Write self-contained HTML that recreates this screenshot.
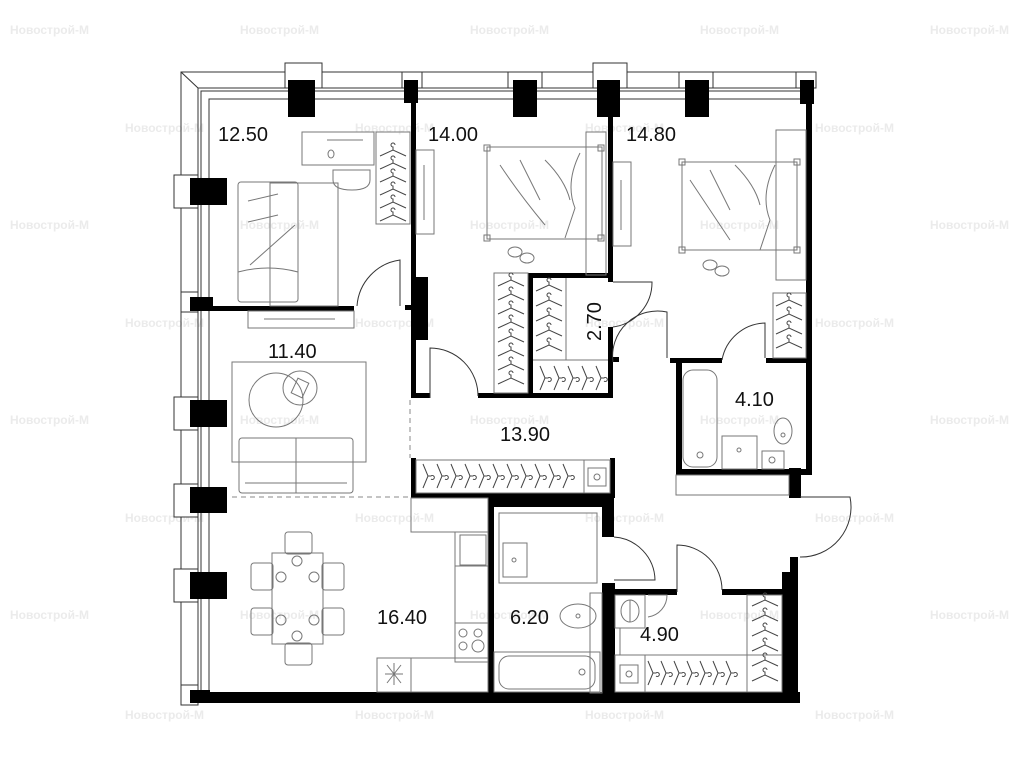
<!DOCTYPE html>
<html><head><meta charset="utf-8"><style>
html,body{margin:0;padding:0;background:#fff;}
svg{display:block;}
.wm{font-family:"Liberation Sans",sans-serif;font-size:12px;fill:#ebebeb;font-weight:bold;}
.lb{font-family:"Liberation Sans",sans-serif;font-size:20px;fill:#111;}
.t{fill:none;stroke:#333;stroke-width:1;}
.g{fill:none;stroke:#777;stroke-width:1;}
</style></head><body>
<svg width="1024" height="768" viewBox="0 0 1024 768" xmlns="http://www.w3.org/2000/svg">
<defs>
<g id="hg"><path d="M-13,6 L0,0 L13,6 M0,0 v-3 a2,2 0 1 1 2,-2" fill="none" stroke="#444" stroke-width="1"/></g>
<g id="hv"><path d="M-5,-12 L0,0 L-5,12 M0,0 h3 a2,2 0 1 1 0,3" fill="none" stroke="#444" stroke-width="1"/></g>
</defs>
<g class="wm">
<text x="10" y="34">Новострой-М</text><text x="240" y="34">Новострой-М</text><text x="470" y="34">Новострой-М</text><text x="700" y="34">Новострой-М</text><text x="930" y="34">Новострой-М</text>
<text x="125" y="132">Новострой-М</text><text x="355" y="132">Новострой-М</text><text x="585" y="132">Новострой-М</text><text x="815" y="132">Новострой-М</text>
<text x="10" y="229">Новострой-М</text><text x="240" y="229">Новострой-М</text><text x="470" y="229">Новострой-М</text><text x="700" y="229">Новострой-М</text><text x="930" y="229">Новострой-М</text>
<text x="125" y="327">Новострой-М</text><text x="355" y="327">Новострой-М</text><text x="585" y="327">Новострой-М</text><text x="815" y="327">Новострой-М</text>
<text x="10" y="424">Новострой-М</text><text x="240" y="424">Новострой-М</text><text x="470" y="424">Новострой-М</text><text x="700" y="424">Новострой-М</text><text x="930" y="424">Новострой-М</text>
<text x="125" y="522">Новострой-М</text><text x="355" y="522">Новострой-М</text><text x="585" y="522">Новострой-М</text><text x="815" y="522">Новострой-М</text>
<text x="10" y="619">Новострой-М</text><text x="240" y="619">Новострой-М</text><text x="470" y="619">Новострой-М</text><text x="700" y="619">Новострой-М</text><text x="930" y="619">Новострой-М</text>
<text x="125" y="719">Новострой-М</text><text x="355" y="719">Новострой-М</text><text x="585" y="719">Новострой-М</text><text x="815" y="719">Новострой-М</text>
</g>
<g class="t">
<path d="M181,697 V72 H815"/>
<path d="M181,72 L198,88"/>
<path d="M198,697 V88 H806"/><path d="M201,697 V91 H806"/>
<path d="M209,692 V99 H806"/>
<rect x="285" y="63" width="37" height="25" fill="#fff"/>
<rect x="402" y="72" width="20" height="16" fill="#fff"/>
<rect x="508" y="72" width="34" height="16" fill="#fff"/>
<rect x="593" y="63" width="34" height="25" fill="#fff"/>
<rect x="679" y="72" width="34" height="16" fill="#fff"/>
<rect x="796" y="72" width="20" height="16" fill="#fff"/>
<rect x="174" y="175" width="24" height="33" fill="#fff"/>
<rect x="181" y="292" width="17" height="20" fill="#fff"/>
<rect x="174" y="397" width="24" height="33" fill="#fff"/>
<rect x="174" y="484" width="24" height="33" fill="#fff"/>
<rect x="174" y="569" width="24" height="33" fill="#fff"/>
<rect x="181" y="685" width="17" height="20" fill="#fff"/>
</g>
<g fill="#000">
<rect x="288" y="80" width="27" height="37"/>
<rect x="404" y="80" width="14" height="23"/>
<rect x="513" y="80" width="24" height="37"/>
<rect x="597" y="80" width="23" height="37"/>
<rect x="685" y="80" width="24" height="37"/>
<rect x="800" y="80" width="14" height="24"/>
<rect x="806" y="100" width="6" height="375"/>
<rect x="789" y="468" width="12" height="30"/>
<rect x="190" y="178" width="37" height="27"/>
<rect x="190" y="297" width="23" height="14"/>
<rect x="190" y="400" width="37" height="27"/>
<rect x="190" y="487" width="37" height="26"/>
<rect x="190" y="572" width="37" height="27"/>
<rect x="190" y="690" width="20" height="13"/>
<rect x="190" y="692" width="610" height="11"/>
<rect x="190" y="306" width="164" height="5"/>
<rect x="411" y="80" width="5" height="318"/>
<rect x="411" y="277" width="17" height="63"/>
<rect x="405" y="305" width="8" height="5"/>
<rect x="411" y="393" width="19" height="5"/>
<rect x="478" y="393" width="135" height="5"/>
<rect x="608" y="80" width="5" height="202"/>
<rect x="528" y="273" width="85" height="5"/>
<rect x="528" y="273" width="5" height="125"/>
<rect x="608" y="327" width="5" height="71"/>
<rect x="608" y="357" width="11" height="5"/>
<rect x="670" y="358" width="52" height="5"/>
<rect x="766" y="358" width="46" height="5"/>
<rect x="676" y="358" width="6" height="117"/>
<rect x="676" y="469" width="130" height="6"/>
<rect x="411" y="458" width="5" height="40"/>
<rect x="610" y="458" width="5" height="40"/>
<rect x="411" y="493" width="204" height="5"/>
<rect x="488" y="498" width="6" height="205"/>
<rect x="488" y="498" width="126" height="9"/>
<rect x="602" y="498" width="12" height="39"/>
<rect x="602" y="583" width="13" height="120"/>
<rect x="602" y="589" width="75" height="6"/>
<rect x="722" y="589" width="64" height="6"/>
<rect x="790" y="557" width="8" height="146"/>
<rect x="782" y="572" width="16" height="131"/>
</g>
<path d="M410,400 V458" stroke="#888" stroke-dasharray="5,4" fill="none"/>
<path d="M232,497 H410" stroke="#888" stroke-dasharray="5,4" fill="none"/>
<g class="t">
<path d="M357,306 A50,50 0 0 1 400,260 V306"/>
<path d="M430,398 V348 A48,48 0 0 1 478,396"/>
<path d="M613,282 H652 A45,45 0 0 1 613,327"/>
<path d="M613,362 A45,45 0 0 1 667,312 V358"/>
<path d="M722,360 A45,45 0 0 1 765,323 V358"/>
<path d="M800,497 H850 A50,50 0 0 1 800,557"/>
<path d="M614,537 A44,44 0 0 1 655,580 H614"/>
<path d="M677,592 V545 A45,45 0 0 1 722,590"/>
</g>
<g class="g">
<rect x="302" y="132" width="72" height="33"/><line x1="327" y1="140" x2="363" y2="140"/><ellipse cx="331" cy="154" rx="3" ry="4"/>
<path d="M333,170 h37 v10 q0,10 -18,10 q-19,0 -19,-10 z"/>
<rect x="376" y="132" width="34" height="92"/>
<rect x="238" y="182" width="60" height="120" rx="3"/>
<path d="M248,201 l30,-7 M248,222 l30,-7 M250,265 l45,-40 M238,272 q30,-8 60,0"/>
<rect x="270" y="183" width="68" height="123"/>
<rect x="248" y="311" width="106" height="17"/><line x1="264" y1="319" x2="335" y2="319"/>
<g transform="translate(393,150)"><use href="#hg"/><use href="#hg" y="13"/><use href="#hg" y="26"/><use href="#hg" y="39"/><use href="#hg" y="52"/><use href="#hg" y="65"/></g>
<rect x="416" y="150" width="18" height="84"/><line x1="424" y1="165" x2="424" y2="220"/>
<rect x="487" y="147" width="115" height="92"/><rect x="484" y="145" width="6" height="6"/><rect x="598" y="145" width="6" height="6"/><rect x="484" y="235" width="6" height="6"/><rect x="598" y="235" width="6" height="6"/>
<path d="M500,165 q20,30 45,60 M520,160 q10,20 20,40 M545,160 q20,20 25,40 M580,153 q-15,30 -5,55 q-5,15 -10,30"/>
<rect x="586" y="132" width="20" height="143"/>
<ellipse cx="515" cy="252" rx="7" ry="5"/><ellipse cx="527" cy="258" rx="7" ry="5"/>
<rect x="494" y="273" width="34" height="120"/>
<g transform="translate(511,280)"><use href="#hg"/><use href="#hg" y="14"/><use href="#hg" y="28"/><use href="#hg" y="42"/><use href="#hg" y="56"/><use href="#hg" y="70"/><use href="#hg" y="84"/><use href="#hg" y="98"/></g>
<g transform="translate(549,285)"><use href="#hg"/><use href="#hg" y="15"/><use href="#hg" y="30"/><use href="#hg" y="45"/><use href="#hg" y="60"/></g>
<line x1="566" y1="278" x2="566" y2="360"/><line x1="533" y1="360" x2="608" y2="360"/>
<g transform="translate(545,378)"><use href="#hv"/><use href="#hv" x="14"/><use href="#hv" x="28"/><use href="#hv" x="42"/><use href="#hv" x="56"/></g>
<rect x="613" y="162" width="18" height="84"/><line x1="621" y1="180" x2="621" y2="230"/>
<rect x="682" y="162" width="115" height="88"/><rect x="679" y="159" width="6" height="6"/><rect x="794" y="159" width="6" height="6"/><rect x="679" y="247" width="6" height="6"/><rect x="794" y="247" width="6" height="6"/>
<path d="M690,180 q20,30 40,60 M710,170 q10,20 20,40 M735,165 q20,20 25,40 M775,165 q-15,30 -5,55 q-5,15 -10,30"/>
<rect x="776" y="130" width="30" height="150"/>
<ellipse cx="710" cy="265" rx="7" ry="5"/><ellipse cx="722" cy="271" rx="7" ry="5"/>
<rect x="773" y="293" width="33" height="65"/>
<g transform="translate(789,300)"><use href="#hg"/><use href="#hg" y="14"/><use href="#hg" y="28"/><use href="#hg" y="42"/></g>
<rect x="683" y="370" width="34" height="97" rx="10"/><circle cx="700" cy="455" r="3"/>
<rect x="722" y="436" width="35" height="33"/><circle cx="739" cy="450" r="2"/>
<ellipse cx="783" cy="431" rx="9" ry="13"/><circle cx="783" cy="435" r="2"/>
<rect x="762" y="451" width="22" height="18"/><circle cx="772" cy="460" r="3"/>
<rect x="676" y="475" width="113" height="20"/>
<rect x="232" y="362" width="134" height="100"/>
<circle cx="276" cy="400" r="27"/><circle cx="300" cy="388" r="17"/><rect x="294" y="380" width="12" height="16" transform="rotate(25 300 388)"/>
<rect x="239" y="438" width="114" height="55" rx="3"/><line x1="296" y1="438" x2="296" y2="493"/><line x1="245" y1="483" x2="347" y2="483"/>
<rect x="416" y="460" width="194" height="33"/><line x1="584" y1="460" x2="584" y2="493"/><rect x="588" y="468" width="18" height="18"/><circle cx="597" cy="477" r="3"/>
<g transform="translate(428,476)"><use href="#hv"/><use href="#hv" x="14"/><use href="#hv" x="28"/><use href="#hv" x="42"/><use href="#hv" x="56"/><use href="#hv" x="70"/><use href="#hv" x="84"/><use href="#hv" x="98"/><use href="#hv" x="112"/><use href="#hv" x="126"/><use href="#hv" x="140"/></g>
<rect x="411" y="498" width="77" height="34"/>
<rect x="455" y="532" width="33" height="130"/><rect x="460" y="535" width="26" height="30"/>
<line x1="455" y1="566" x2="488" y2="566"/><line x1="455" y1="623" x2="488" y2="623"/>
<circle cx="463" cy="633" r="4"/><circle cx="478" cy="633" r="4"/><circle cx="463" cy="646" r="4"/><circle cx="478" cy="646" r="6"/>
<rect x="377" y="658" width="111" height="34"/><line x1="411" y1="658" x2="411" y2="692"/>
<path d="M387,665 l14,18 M401,665 l-14,18 M394,663 v22 M385,674 h18"/>
<rect x="272" y="553" width="51" height="91"/>
<rect x="285" y="532" width="27" height="22" rx="3"/><rect x="285" y="643" width="27" height="22" rx="3"/>
<rect x="251" y="563" width="22" height="27" rx="3"/><rect x="251" y="608" width="22" height="27" rx="3"/>
<rect x="322" y="563" width="22" height="27" rx="3"/><rect x="322" y="608" width="22" height="27" rx="3"/>
<circle cx="297" cy="561" r="5"/><circle cx="297" cy="636" r="5"/><circle cx="281" cy="577" r="5"/><circle cx="314" cy="577" r="5"/><circle cx="281" cy="620" r="5"/><circle cx="314" cy="620" r="5"/>
<rect x="499" y="513" width="98" height="70"/><rect x="503" y="543" width="24" height="34"/><circle cx="514" cy="560" r="2"/>
<ellipse cx="578" cy="616" rx="18" ry="12"/><circle cx="578" cy="616" r="2"/>
<rect x="590" y="593" width="12" height="100"/>
<rect x="494" y="652" width="106" height="40"/><rect x="499" y="656" width="96" height="33" rx="10"/><circle cx="582" cy="672" r="3"/>
<rect x="615" y="595" width="30" height="33"/><ellipse cx="630" cy="611" rx="9" ry="11"/><line x1="630" y1="600" x2="630" y2="622"/>
<path d="M648,595 h19 a22,22 0 0 1 -19,22"/>
<line x1="620" y1="628" x2="620" y2="655"/>
<rect x="615" y="655" width="167" height="37"/><line x1="645" y1="655" x2="645" y2="692"/><rect x="620" y="665" width="18" height="18"/><circle cx="629" cy="674" r="3"/>
<rect x="747" y="595" width="35" height="97"/>
<g transform="translate(653,673)"><use href="#hv"/><use href="#hv" x="13"/><use href="#hv" x="26"/><use href="#hv" x="39"/><use href="#hv" x="52"/><use href="#hv" x="65"/><use href="#hv" x="78"/></g>
<g transform="translate(765,600)"><use href="#hg"/><use href="#hg" y="15"/><use href="#hg" y="30"/><use href="#hg" y="45"/><use href="#hg" y="60"/><use href="#hg" y="75"/></g>
</g>
<g class="lb">
<text x="218" y="141">12.50</text>
<text x="428" y="141">14.00</text>
<text x="626" y="141">14.80</text>
<text x="268" y="358">11.40</text>
<text x="0" y="0" transform="translate(601,341) rotate(-90)">2.70</text>
<text x="500" y="441">13.90</text>
<text x="735" y="406">4.10</text>
<text x="377" y="624">16.40</text>
<text x="510" y="624">6.20</text>
<text x="640" y="641">4.90</text>
</g>
</svg>
</body></html>
